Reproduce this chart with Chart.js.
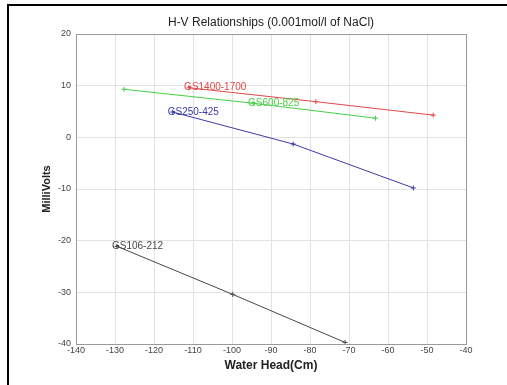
<!DOCTYPE html>
<html>
<head>
<meta charset="utf-8">
<script src="https://cdn.jsdelivr.net/npm/chart.js@4/dist/chart.umd.min.js"></script>
<style>
  html, body { margin: 0; padding: 0; background: #fff; }
  #wrap { position: relative; width: 507px; height: 385px; }
  #frame { position: absolute; left: 7px; top: 4px; width: 520px; height: 400px;
           border-left: 2px solid #000; border-top: 2px solid #000; pointer-events: none; }
  canvas { position: absolute; left: 0; top: 0; }
</style>
</head>
<body>
<div id="wrap">
  <canvas id="grafico" width="507" height="385"></canvas>
  <div id="frame"></div>
</div>
<script>
// datos
const seriesNames = ["GS1400-1700", "GS600-825", "GS250-425", "GS106-212"];
const waterHead = [
  [-111, -78.5, -48.4],
  [-127.7, -94.6, -63.2],
  [-115.2, -84.3, -53.5],
  [-129.5, -99.8, -71]
];
const milliVolts = [
  [9.6, 6.9, 4.3],
  [9.3, 6.6, 3.7],
  [4.9, -1.3, -9.8],
  [-21.1, -30.4, -39.7]
];
const labelAt = [0, 1, 0, 0];
const colores = ["#e04848", "#44d044", "#3a3aa8", "#484848"];
const xTicks = [-140, -130, -120, -110, -100, -90, -80, -70, -60, -50, -40];
const yTicks = [20, 10, 0, -10, -20, -30, -40];

const fuente = "'Liberation Sans', Arial, sans-serif";

const datasets = seriesNames.map((nombre, i) => ({
  label: nombre,
  data: waterHead[i].map((x, j) => ({ x: x, y: milliVolts[i][j] })),
  showLine: true,
  borderColor: colores[i],
  backgroundColor: colores[i],
  borderWidth: 1,
  pointStyle: "cross",
  pointRadius: 2.5,
  pointBorderWidth: 1,
  tension: 0
}));

// textos: titulo, ejes y etiquetas de series
const textos = {
  id: "textos",
  afterDraw(chart) {
    const ctx = chart.ctx;
    const area = chart.chartArea;
    const sx = chart.scales.x, sy = chart.scales.y;
    ctx.save();
    ctx.fillStyle = "#222";
    ctx.textAlign = "center";
    ctx.textBaseline = "middle";
    ctx.font = "12px " + fuente;
    ctx.fillText("H-V Relationships (0.001mol/l of NaCl)", (area.left + area.right) / 2, 23);
    ctx.font = "bold 12px " + fuente;
    ctx.fillText("Water Head(Cm)", (area.left + area.right) / 2, 366);
    ctx.translate(47, (area.top + area.bottom) / 2);
    ctx.rotate(-Math.PI / 2);
    ctx.font = "bold 11px " + fuente;
    ctx.fillText("MilliVolts", 0, 0);
    ctx.restore();

    ctx.save();
    ctx.font = "10px " + fuente;
    ctx.textAlign = "left";
    ctx.textBaseline = "middle";
    seriesNames.forEach((nombre, i) => {
      const k = labelAt[i];
      ctx.fillStyle = colores[i];
      ctx.fillText(nombre, sx.getPixelForValue(waterHead[i][k]) - 5, sy.getPixelForValue(milliVolts[i][k]));
    });
    ctx.restore();
  }
};

const ctx = document.getElementById("grafico").getContext("2d");
new Chart(ctx, {
  type: "scatter",
  data: { datasets: datasets },
  options: {
    responsive: false,
    animation: false,
    layout: { padding: { left: 0, top: 34, right: 41, bottom: 0 } },
    plugins: { legend: { display: false }, tooltip: { enabled: false }, title: { display: false } },
    scales: {
      x: {
        type: "linear",
        min: -140, max: -40,
        afterBuildTicks: (s) => { s.ticks = xTicks.map((v) => ({ value: v })); },
        afterFit: (s) => { s.height = 41; },
        grid: {
          color: (c) => (c.tick && c.tick.value === -40 ? "#9a9a9a" : "#e2e2e2"),
          drawTicks: false
        },
        border: { color: "#9a9a9a", width: 1 },
        ticks: { color: "#444", font: { family: fuente, size: 9 }, padding: 1, maxRotation: 0 }
      },
      y: {
        type: "linear",
        min: -40, max: 20,
        afterBuildTicks: (s) => { s.ticks = yTicks.map((v) => ({ value: v })); },
        afterFit: (s) => { s.width = 76; },
        grid: {
          color: (c) => (c.tick && c.tick.value === 20 ? "#9a9a9a" : "#e2e2e2"),
          drawTicks: false
        },
        border: { color: "#9a9a9a", width: 1 },
        ticks: { color: "#444", font: { family: fuente, size: 9 }, padding: 5 }
      }
    }
  },
  plugins: [textos]
});
</script>
</body>
</html>
